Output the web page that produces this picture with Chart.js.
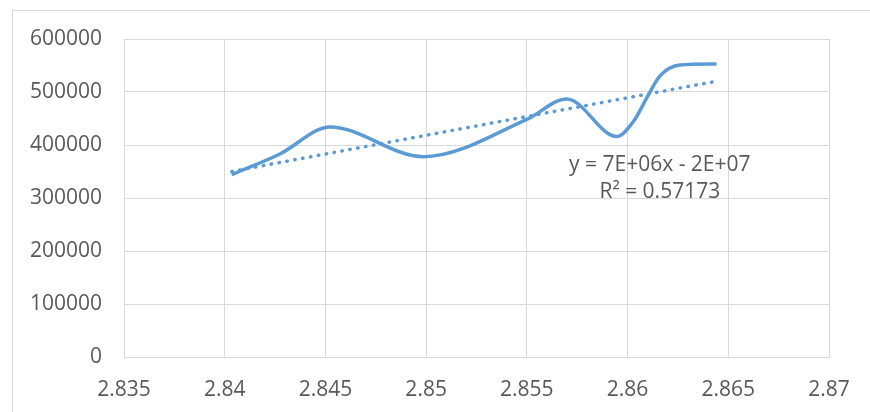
<!DOCTYPE html>
<html>
<head>
<meta charset="utf-8">
<script src="https://cdn.jsdelivr.net/npm/chart.js@4.4.1/dist/chart.umd.min.js"></script>
<style>
  html, body { margin: 0; padding: 0; background: #fff; }
  #wrap { position: relative; width: 870px; height: 412px; }
  #frame { position: absolute; left: 12px; top: 10px; right: 0; bottom: 0;
           border-left: 1px solid #d9d9d9; border-top: 1px solid #d9d9d9; }
  canvas { position: absolute; left: 0; top: 0; }
</style>
</head>
<body>
<div id="wrap">
  <div id="frame"></div>
  <canvas id="chart" width="870" height="412"></canvas>
</div>
<script>
// measured series
const xValues = [2.84035, 2.84274, 2.84523, 2.84986, 2.85503, 2.85698, 2.85946, 2.8603, 2.8610, 2.8616, 2.8626, 2.86442];
const yValues = [344000, 383000, 434000, 378000, 449000, 487000, 416000, 445000, 492000, 530000, 551000, 553000];

// linear trendline end points
const trendX = [2.84035, 2.86423];
const trendY = [350000, 519000];

// trendline caption and where it sits (data space)
const trendText = ['y = 7E+06x - 2E+07', 'R\u00b2 = 0.57173'];
const trendTextAt = { x: 2.8616, y: 363000 };

const xTicks = [2.835, 2.84, 2.845, 2.85, 2.855, 2.86, 2.865, 2.87];
const yTicks = [0, 100000, 200000, 300000, 400000, 500000, 600000];

const BLUE = '#5b9bd5';
const GRID = '#d9d9d9';
const TEXT = '#595959';
const FONT = "'Open Sans', 'Liberation Sans', sans-serif";

const toPoints = (xs, ys) => xs.map((x, i) => ({ x: x, y: ys[i] }));

const trendLabel = {
  id: 'trendLabel',
  afterDatasetsDraw(chart) {
    const { ctx, scales } = chart;
    const cx = scales.x.getPixelForValue(trendTextAt.x);
    const cy = scales.y.getPixelForValue(trendTextAt.y);
    ctx.save();
    ctx.font = '21px ' + FONT;
    ctx.fillStyle = TEXT;
    ctx.textAlign = 'center';
    ctx.textBaseline = 'middle';
    trendText.forEach((line, i) => ctx.fillText(line, cx, cy + i * 27));
    ctx.restore();
  }
};

new Chart(document.getElementById('chart'), {
  type: 'scatter',
  data: {
    datasets: [
      {
        data: toPoints(xValues, yValues),
        showLine: true,
        borderColor: BLUE,
        borderWidth: 3.5,
        cubicInterpolationMode: 'monotone',
        pointRadius: 0,
        fill: false
      },
      {
        data: toPoints(trendX, trendY),
        showLine: true,
        borderColor: BLUE,
        borderWidth: 3.5,
        borderDash: [0.5, 7.5],
        borderCapStyle: 'round',
        pointRadius: 0,
        fill: false
      }
    ]
  },
  options: {
    responsive: false,
    animation: false,
    layout: { padding: { left: 0, top: 39, right: 41, bottom: 0 } },
    plugins: { legend: { display: false }, tooltip: { enabled: false } },
    scales: {
      x: {
        type: 'linear',
        min: 2.835,
        max: 2.87,
        afterBuildTicks: (scale) => { scale.ticks = xTicks.map(v => ({ value: v })); },
        afterFit: (scale) => { scale.height = 55; },
        grid: { color: GRID, lineWidth: 1, drawTicks: false },
        border: { color: GRID, width: 1 },
        ticks: {
          padding: 20,
          color: TEXT,
          font: { family: FONT, size: 21 },
          maxRotation: 0,
          callback: (v) => String(Number(v.toFixed(3)))
        }
      },
      y: {
        min: 0,
        max: 600000,
        afterBuildTicks: (scale) => { scale.ticks = yTicks.map(v => ({ value: v })); },
        afterFit: (scale) => { scale.width = 124; },
        grid: { color: GRID, lineWidth: 1, drawTicks: false },
        border: { color: GRID, width: 1 },
        ticks: {
          padding: 22,
          color: TEXT,
          font: { family: FONT, size: 21 },
          callback: (v) => String(v)
        }
      }
    }
  },
  plugins: [trendLabel]
});
</script>
</body>
</html>
